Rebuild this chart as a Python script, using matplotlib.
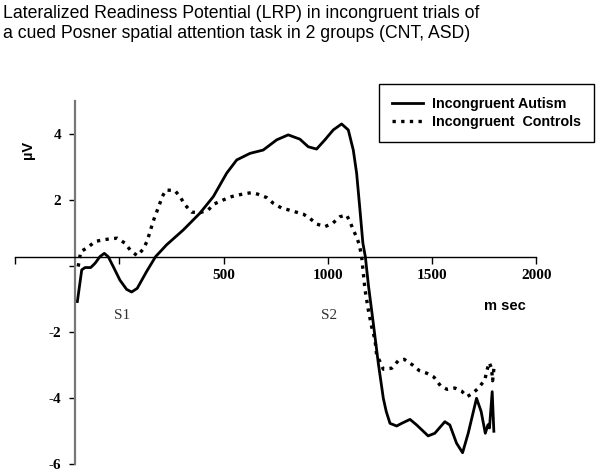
import numpy as np
import matplotlib
matplotlib.use("Agg")
import matplotlib.pyplot as plt

# values (ms, microvolts)
autism_ms = [-201, -180, -164, -137, -116, -93, -72, -53, -29, 3, 35, 59, 86, 131, 174,
             227, 307, 387, 451, 515, 563, 627, 690, 755, 810, 866, 906, 946, 986, 1026,
             1066, 1098, 1122, 1138, 1154, 1168, 1180, 1195, 1218, 1242, 1266, 1280, 1298,
             1330, 1354, 1394, 1426, 1481, 1513, 1561, 1585, 1617, 1646, 1673, 1713, 1735,
             1755, 1768, 1775, 1788, 1796]
autism_uv = [-1.07, -0.11, -0.04, -0.04, 0.09, 0.29, 0.39, 0.29, -0.01, -0.42, -0.70, -0.78,
             -0.67, -0.16, 0.29, 0.65, 1.10, 1.61, 2.11, 2.82, 3.22, 3.42, 3.52, 3.83, 3.98,
             3.85, 3.62, 3.55, 3.83, 4.13, 4.31, 4.13, 3.52, 2.82, 1.71, 0.70, 0.28, -0.60,
             -1.73, -2.94, -4.00, -4.40, -4.76, -4.84, -4.76, -4.64, -4.81, -5.14, -5.06,
             -4.71, -4.81, -5.36, -5.65, -5.06, -4.00, -4.40, -5.06, -4.80, -4.90, -3.80, -5.00]

controls_ms = [-197, -185, -149, -116, -77, -45, -10, 27, 55, 86, 115, 134, 163, 179, 192,
               206, 224, 267, 291, 315, 347, 387, 427, 456, 499, 539, 594, 635, 666, 707,
               738, 779, 810, 842, 882, 914, 946, 986, 1023, 1058, 1090, 1106, 1122, 1138,
               1151, 1162, 1178, 1194, 1210, 1226, 1234, 1250, 1266, 1306, 1338, 1366, 1406,
               1438, 1474, 1509, 1541, 1572, 1609, 1641, 1668, 1694, 1721, 1737, 1753, 1761,
               1774, 1785, 1790, 1798]
controls_uv = [-0.01, 0.44, 0.58, 0.75, 0.80, 0.83, 0.85, 0.70, 0.47, 0.32, 0.52, 0.77, 1.37,
               1.64, 1.86, 2.11, 2.31, 2.29, 2.11, 1.86, 1.64, 1.62, 1.71, 1.89, 2.01, 2.11,
               2.19, 2.23, 2.18, 2.08, 1.91, 1.76, 1.71, 1.65, 1.58, 1.45, 1.28, 1.20, 1.30,
               1.50, 1.55, 1.35, 1.10, 0.88, 0.65, 0.29, -0.70, -1.32, -1.83, -2.23, -2.69,
               -2.89, -3.12, -3.09, -2.86, -2.82, -2.99, -3.16, -3.24, -3.36, -3.63, -3.73,
               -3.69, -3.78, -3.95, -3.85, -3.70, -3.57, -3.45, -3.19, -2.92, -3.09, -3.47, -2.99]

x_ticks = [-500, 0, 500, 1000, 1500, 2000]
x_labels = ["", "", "500", "1000", "1500", "2000"]
y_ticks = [-6, -4, -2, 0, 2, 4]
y_labels = ["-6", "-4", "-2", "", "2", "4"]

title = ("Lateralized Readiness Potential (LRP) in incongruent trials of\n"
         "a cued Posner spatial attention task in 2 groups (CNT, ASD)")

fig = plt.figure(figsize=(6, 4.74), dpi=100)
ax = fig.add_axes([0.025, 0.0205, 0.869, 0.766])

ax.plot(autism_ms, autism_uv, color="black", lw=2.0, label="Incongruent Autism",
        solid_joinstyle="round")
ax.plot(controls_ms, controls_uv, color="black", lw=2.4, linestyle=(0, (1, 1.6)),
        label="Incongruent  Controls")

ax.set_xlim(-500, 2000)
ax.set_ylim(-6, 5)

# axes cross like the excel original
ax.spines["left"].set_position(("data", -212))
ax.spines["bottom"].set_position(("data", 0.28))
ax.spines["top"].set_visible(False)
ax.spines["right"].set_visible(False)
ax.spines["left"].set_color("#777777")
ax.spines["left"].set_linewidth(1.6)
ax.spines["bottom"].set_linewidth(1.0)

ax.set_xticks(x_ticks)
ax.set_xticklabels(x_labels)
ax.set_yticks(y_ticks)
ax.set_yticklabels(y_labels)
ax.tick_params(axis="x", direction="out", length=5, width=1, pad=4)
ax.tick_params(axis="y", direction="out", length=4, width=1, pad=6)
for lab in ax.get_xticklabels() + ax.get_yticklabels():
    lab.set_fontfamily("Liberation Serif")
    lab.set_fontweight("bold")
    lab.set_fontsize(11)

ax.text(12, -1.48, "S1", family="Liberation Serif", fontsize=11, color="#333333",
        ha="center", va="center")
ax.text(1005, -1.48, "S2", family="Liberation Serif", fontsize=11, color="#333333",
        ha="center", va="center")
ax.text(1849, -1.2, "m sec", family="Liberation Sans", fontsize=10.5, fontweight="bold",
        ha="center", va="center")
ax.text(-436, 3.52, "µV", family="Liberation Sans", fontsize=10.5, fontweight="bold",
        rotation=90, ha="center", va="center")

fig.text(0.005, 0.99, title, family="Liberation Sans", fontsize=12.7, ha="left", va="top",
         linespacing=1.28)

leg = ax.legend(loc="upper left", bbox_to_anchor=(379 / 600, 1 - 84 / 474),
                bbox_transform=fig.transFigure, fancybox=False, framealpha=1,
                edgecolor="black", borderpad=0.9, handlelength=2.2, handletextpad=0.6,
                labelspacing=0.3, borderaxespad=0,
                prop={"family": "Liberation Sans", "weight": "bold", "size": 10.3})
leg.get_frame().set_linewidth(1.0)

fig.savefig("out.png", dpi=100)
